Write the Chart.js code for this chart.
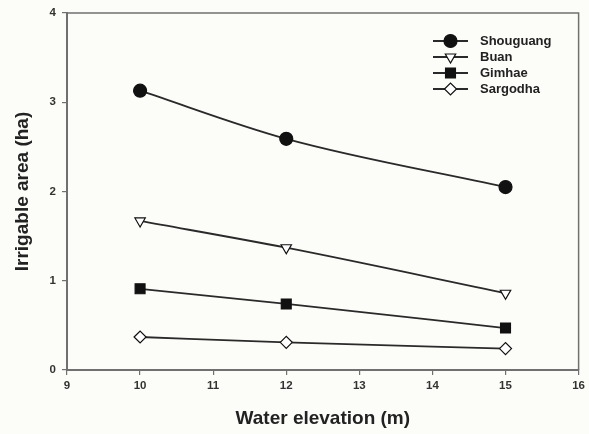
<!DOCTYPE html>
<html>
<head>
<meta charset="utf-8">
<script src="https://cdn.jsdelivr.net/npm/chart.js@4/dist/chart.umd.min.js"></script>
<style>
  html, body { margin: 0; padding: 0; background: #fcfcf8; }
  #wrap { width: 589px; height: 434px; }
</style>
</head>
<body>
<div id="wrap"><canvas id="c" width="589" height="434"></canvas></div>
<script>
// Water elevation (m) at which the irrigable area was computed
const elevations = [10, 12, 15];

// Irrigable area (ha) per site
const shouguang = [3.13, 2.59, 2.05];
const buan      = [1.67, 1.37, 0.86];
const gimhae    = [0.91, 0.74, 0.47];
const sargodha  = [0.37, 0.31, 0.24];

const xTicks = [9, 10, 11, 12, 13, 14, 15, 16];
const yTicks = [0, 1, 2, 3, 4];

const toPoints = vals => elevations.map((x, i) => ({ x, y: vals[i] }));

const LINE = '#2a2a2a';
const AXIS = '#707070';
const FONT = '"Liberation Sans", Arial, sans-serif';

function series(label, vals, style, fill, radius, rotation) {
  return {
    label,
    data: toPoints(vals),
    borderColor: LINE,
    borderWidth: 1.8,
    cubicInterpolationMode: 'monotone',
    pointStyle: style,
    pointRadius: radius,
    pointRotation: rotation || 0,
    pointBackgroundColor: fill,
    pointBorderColor: '#111',
    pointBorderWidth: 1.2,
    fill: false
  };
}

// Box around the plot area (top and right sides)
const frame = {
  id: 'frame',
  beforeDatasetsDraw(chart) {
    const { ctx, chartArea: a } = chart;
    ctx.save();
    ctx.strokeStyle = AXIS;
    ctx.lineWidth = 1.5;
    ctx.beginPath();
    ctx.moveTo(a.left, a.top);
    ctx.lineTo(a.right, a.top);
    ctx.lineTo(a.right, a.bottom);
    ctx.stroke();
    ctx.restore();
  }
};

// Legend with a line segment through each marker
const lineLegend = {
  id: 'lineLegend',
  afterDatasetsDraw(chart) {
    const { ctx } = chart;
    const x0 = 433, x1 = 468, tx = 480;
    let y = 41;
    chart.data.datasets.forEach(ds => {
      ctx.save();
      ctx.strokeStyle = LINE;
      ctx.lineWidth = 1.8;
      ctx.beginPath();
      ctx.moveTo(x0, y);
      ctx.lineTo(x1, y);
      ctx.stroke();
      ctx.fillStyle = ds.pointBackgroundColor;
      ctx.strokeStyle = ds.pointBorderColor;
      ctx.lineWidth = ds.pointBorderWidth;
      Chart.helpers.drawPoint(ctx, {
        pointStyle: ds.pointStyle,
        rotation: ds.pointRotation,
        radius: ds.pointRadius,
        borderWidth: ds.pointBorderWidth
      }, (x0 + x1) / 2, y);
      ctx.fillStyle = '#222';
      ctx.font = 'bold 13px ' + FONT;
      ctx.textBaseline = 'middle';
      ctx.textAlign = 'left';
      ctx.fillText(ds.label, tx, y);
      ctx.restore();
      y += 16;
    });
  }
};

new Chart(document.getElementById('c'), {
  type: 'line',
  data: {
    datasets: [
      series('Shouguang', shouguang, 'circle', '#111', 6.5),
      series('Buan', buan, 'triangle', '#ffffff', 6, 180),
      series('Gimhae', gimhae, 'rect', '#111', 7),
      series('Sargodha', sargodha, 'rectRot', '#ffffff', 6)
    ]
  },
  options: {
    responsive: false,
    animation: false,
    layout: { padding: { top: 13, right: 7, left: 0, bottom: 0 } },
    plugins: {
      legend: { display: false },
      tooltip: { enabled: false }
    },
    scales: {
      x: {
        type: 'linear',
        min: xTicks[0],
        max: xTicks[xTicks.length - 1],
        afterBuildTicks: s => { s.ticks = xTicks.map(v => ({ value: v })); },
        afterFit: s => { s.height = 64; },
        border: { display: true, color: AXIS, width: 2 },
        grid: { display: true, drawOnChartArea: false, drawTicks: true, tickLength: 5, color: AXIS, lineWidth: 1.2 },
        ticks: {
          color: '#333',
          font: { family: FONT, size: 11.5, weight: 'bold' },
          padding: 4,
          maxRotation: 0
        },
        title: {
          display: true,
          text: 'Water elevation (m)',
          color: '#222',
          font: { family: FONT, size: 19, weight: 'bold' },
          padding: { top: 8 }
        }
      },
      y: {
        type: 'linear',
        min: yTicks[0],
        max: yTicks[yTicks.length - 1],
        afterBuildTicks: s => { s.ticks = yTicks.map(v => ({ value: v })); },
        afterFit: s => { s.width = 67; },
        border: { display: true, color: AXIS, width: 2 },
        grid: { display: true, drawOnChartArea: false, drawTicks: true, tickLength: 5, color: AXIS, lineWidth: 1.2 },
        ticks: {
          color: '#333',
          font: { family: FONT, size: 11.5, weight: 'bold' },
          padding: 6
        },
        title: {
          display: true,
          text: 'Irrigable area (ha)',
          color: '#222',
          font: { family: FONT, size: 19, weight: 'bold' },
          padding: { top: 11, bottom: 0 }
        }
      }
    }
  },
  plugins: [frame, lineLegend]
});
</script>
</body>
</html>
